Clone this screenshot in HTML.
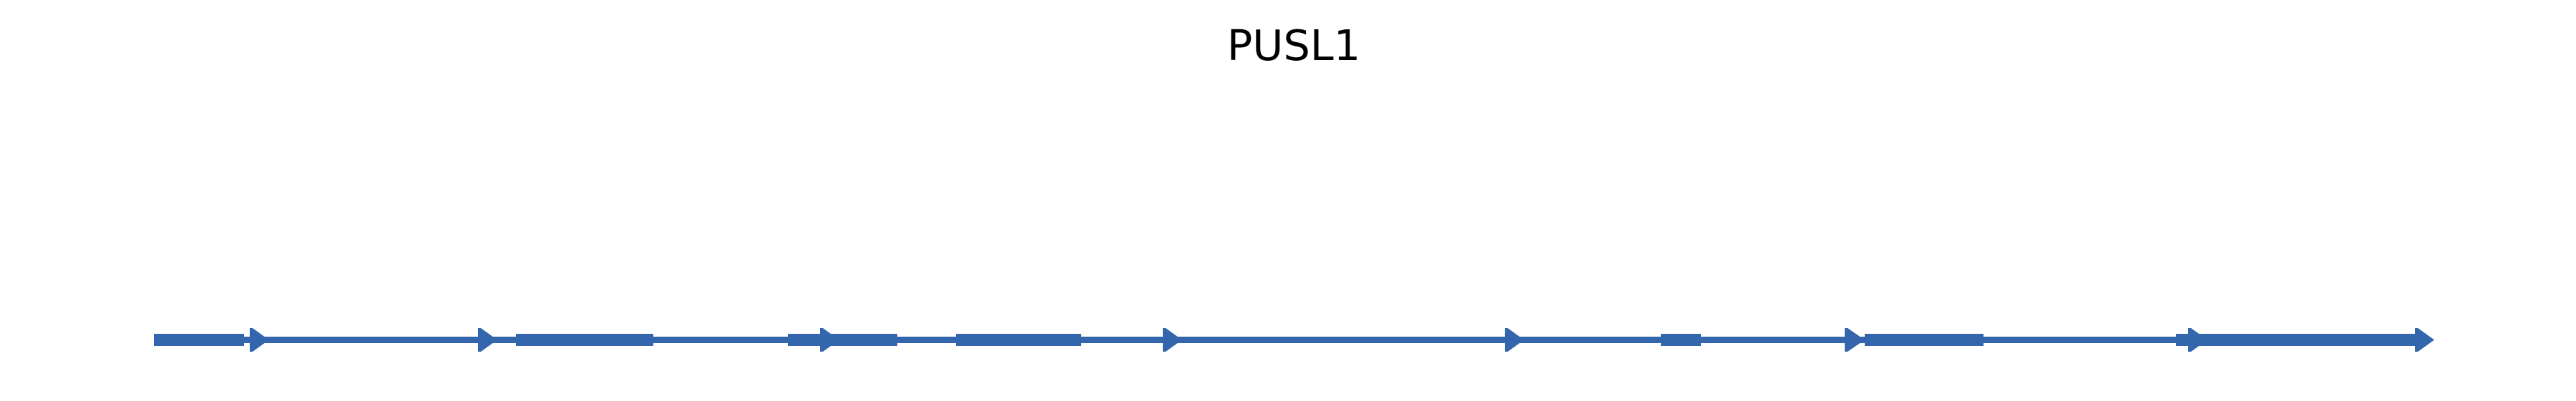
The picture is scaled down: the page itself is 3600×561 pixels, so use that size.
<!DOCTYPE html>
<html><head><style>
html,body{margin:0;padding:0;background:#fff;width:3600px;height:561px;overflow:hidden}
</style></head><body>
<svg width="3600" height="561" viewBox="0 0 3600 561" xmlns="http://www.w3.org/2000/svg">
<text x="1808" y="84" text-anchor="middle" font-family="DejaVu Sans, sans-serif" font-size="59" fill="#000">PUSL1</text>
<g fill="#3466ad">
<rect x="215" y="471" width="3180" height="9"/>
<rect x="215" y="467" width="126" height="17"/>
<rect x="721" y="467" width="192" height="17"/>
<rect x="1101" y="467" width="153" height="17"/>
<rect x="1336" y="467" width="175" height="17"/>
<rect x="2321" y="467" width="56" height="17"/>
<rect x="2606" y="467" width="166" height="17"/>
<rect x="3041" y="467" width="350" height="17"/>
<polygon points="349,459 353,459 376,475.5 353,492 349,492"/>
<polygon points="668,459 672,459 695,475.5 672,492 668,492"/>
<polygon points="1146,459 1150,459 1173,475.5 1150,492 1146,492"/>
<polygon points="1625,459 1629,459 1652,475.5 1629,492 1625,492"/>
<polygon points="2103,459 2107,459 2130,475.5 2107,492 2103,492"/>
<polygon points="2578,459 2582,459 2606,475.5 2582,492 2578,492"/>
<polygon points="3058,459 3062,459 3085,475.5 3062,492 3058,492"/>
<polygon points="3375,459 3379,459 3402,475.5 3379,492 3375,492"/>
</g>
</svg>
</body></html>
